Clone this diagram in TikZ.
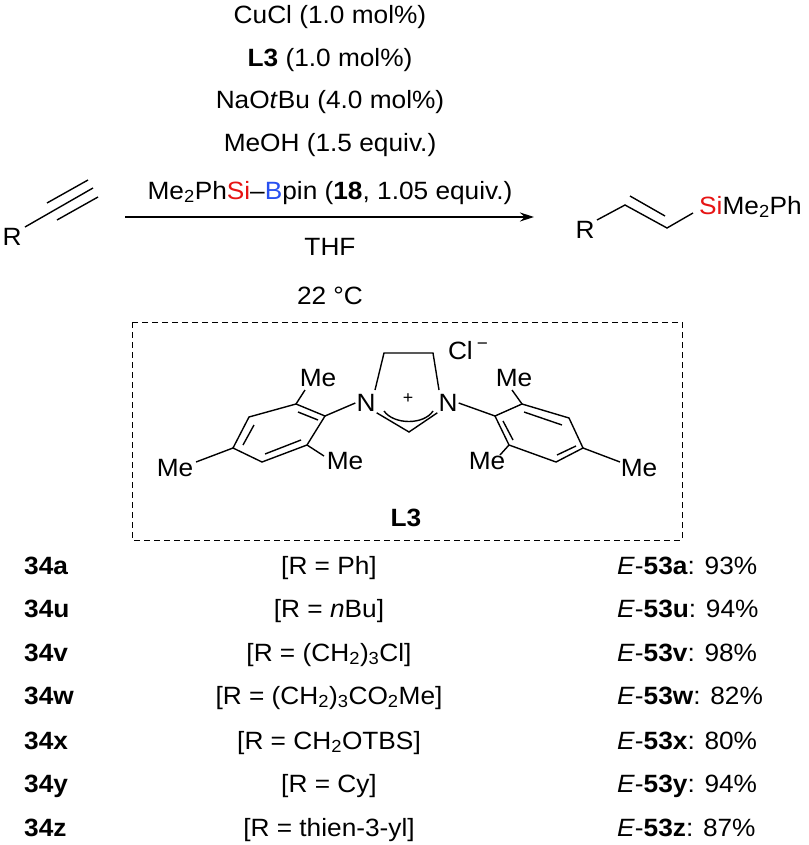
\documentclass[tikz,border=0pt]{standalone}
\usepackage{fontspec}
\setmainfont[FakeStretch=1.05]{Liberation Sans}
\usetikzlibrary{arrows.meta,calc}
\definecolor{sired}{RGB}{230,20,20}
\definecolor{bblue}{RGB}{40,80,240}
\begin{document}
\begin{tikzpicture}[x=1pt,y=-1pt,font=\fontsize{25}{29}\selectfont,
  bond/.style={line width=1.4pt},
  lbl/.style={inner sep=1pt},
  txt/.style={anchor=base,inner sep=0pt}]
\useasboundingbox (0,0) rectangle (808,845);
% conditions
\node[txt] (c1) at (330,24) {CuCl (1.0 mol\%)};
\node[txt] (c2) at (330,67) {\textbf{L3} (1.0 mol\%)};
\node[txt] (c3) at (330,109) {NaO\textit{t}Bu (4.0 mol\%)};
\node[txt] (c4) at (330,152) {MeOH (1.5 equiv.)};
\node[txt] (c5) at (330,199) {Me\textsubscript{2}Ph\textcolor{sired}{Si}–\textcolor{bblue}{B}pin (\textbf{18}, 1.05 equiv.)};
\node[txt] (c6) at (330,255) {THF};
\node[txt] (c7) at (330,304) {22 °C};
\coordinate (a1) at (125,217); \coordinate (a2) at (534,217);
\draw[line width=1.2pt,-{Stealth[length=14pt,width=9pt]}] (a1) -- (a2);
% alkyne
\node[lbl] (R1) at (12,237) {R};
\coordinate (t1) at (25,227); \coordinate (t2) at (93,188);
\draw[bond] (t1) -- (t2);
\draw[bond] (47,203) -- (88,180);
\draw[bond] (57,220) -- (98,197);
% product
\node[lbl] (R2) at (585,230) {R};
\coordinate (p1) at (597,220); \coordinate (p2) at (625,205);
\coordinate (p3) at (667,228); \coordinate (p4) at (693,213);
\draw[bond] (p1) -- (p2) -- (p3) -- (p4);
\draw[bond] (630,196) -- (665,216);
\node[lbl,anchor=west] (si) at (698,207) {\textcolor{sired}{Si}Me\textsubscript{2}Ph};
% box
\draw[line width=1pt,dash pattern=on 6pt off 4pt] (132,322) rectangle (682,540);
% L3
\node[lbl] (N1) at (366,403) {N};
\node[lbl] (N2) at (448,403) {N};
\node[font=\fontsize{17}{18}\selectfont,inner sep=0pt] (plus) at (408,399) {+};
\node[lbl] (cl) at (468,351) {Cl\raisebox{10pt}{\,\fontsize{18}{18}\selectfont −}};
\coordinate (h1) at (384,353); \coordinate (h2) at (433,353);
\coordinate (cc) at (409,432);
\draw[bond] (375,390) -- (h1) -- (h2) -- (439,390);
\draw[bond] (N1.south east) -- (cc) -- (N2.south west);
\draw[bond] (384,411) .. controls (394,425) and (424,425) .. (433,411);
% left mesityl
\coordinate (L1) at (325,416); \coordinate (L2) at (296,404); \coordinate (L3a) at (249,417);
\coordinate (L4) at (233,448); \coordinate (L5) at (262,462); \coordinate (L6) at (307,445);
\draw[bond] (L1) -- (L2) -- (L3a) -- (L4) -- (L5) -- (L6) -- cycle;
\draw[bond] (N1.west) -- (L1);
\draw[bond] (298,412) -- (318,420);
\draw[bond] (254,425) -- (243,445);
\draw[bond] (265,454) -- (301,440);
\node[lbl] (meL1) at (318,378) {Me}; \draw[bond] (L2) -- (305,390);
\node[lbl] (meL2) at (345,461) {Me}; \draw[bond] (L6) -- (324,456);
\node[lbl] (meL3) at (175,468) {Me}; \draw[bond] (L4) -- (196,462);
% right mesityl
\coordinate (Q1) at (495,416); \coordinate (Q2) at (522,404); \coordinate (Q3) at (569,418);
\coordinate (Q4) at (583,448); \coordinate (Q5) at (556,462); \coordinate (Q6) at (509,445);
\draw[bond] (Q1) -- (Q2) -- (Q3) -- (Q4) -- (Q5) -- (Q6) -- cycle;
\draw[bond] (N2.east) -- (Q1);
\draw[bond] (524,412) -- (562,425);
\draw[bond] (576,446) -- (557,455);
\draw[bond] (503,421) -- (513,440);
\node[lbl] (meR1) at (514,378) {Me}; \draw[bond] (Q2) -- (512,390);
\node[lbl] (meR2) at (487,461) {Me}; \draw[bond] (Q6) -- (500,455);
\node[lbl] (meR3) at (639,468) {Me}; \draw[bond] (Q4) -- (620,462);
\node[txt] (l3lab) at (406,526) {\textbf{L3}};
% table
\foreach \y/\a/\b/\c [count=\i] in {574/a/{Ph}/93,617/u/{\textit{n}Bu}/94,661/v/{(CH\textsubscript{2})\textsubscript{3}Cl}/98,704/w/{(CH\textsubscript{2})\textsubscript{3}CO\textsubscript{2}Me}/82,749/x/{CH\textsubscript{2}OTBS}/80,792/y/{Cy}/94,836/z/{thien-3-yl}/87}{
  \node[txt,anchor=base west] (s\i) at (24,\y) {\textbf{34\a}};
  \node[txt] (r\i) at (329,\y) {[R = \b]};
  \node[txt,anchor=base west] (e\i) at (617,\y) {\textit{E}-\textbf{53\a}: \c\%};
}
\end{tikzpicture}
\end{document}
